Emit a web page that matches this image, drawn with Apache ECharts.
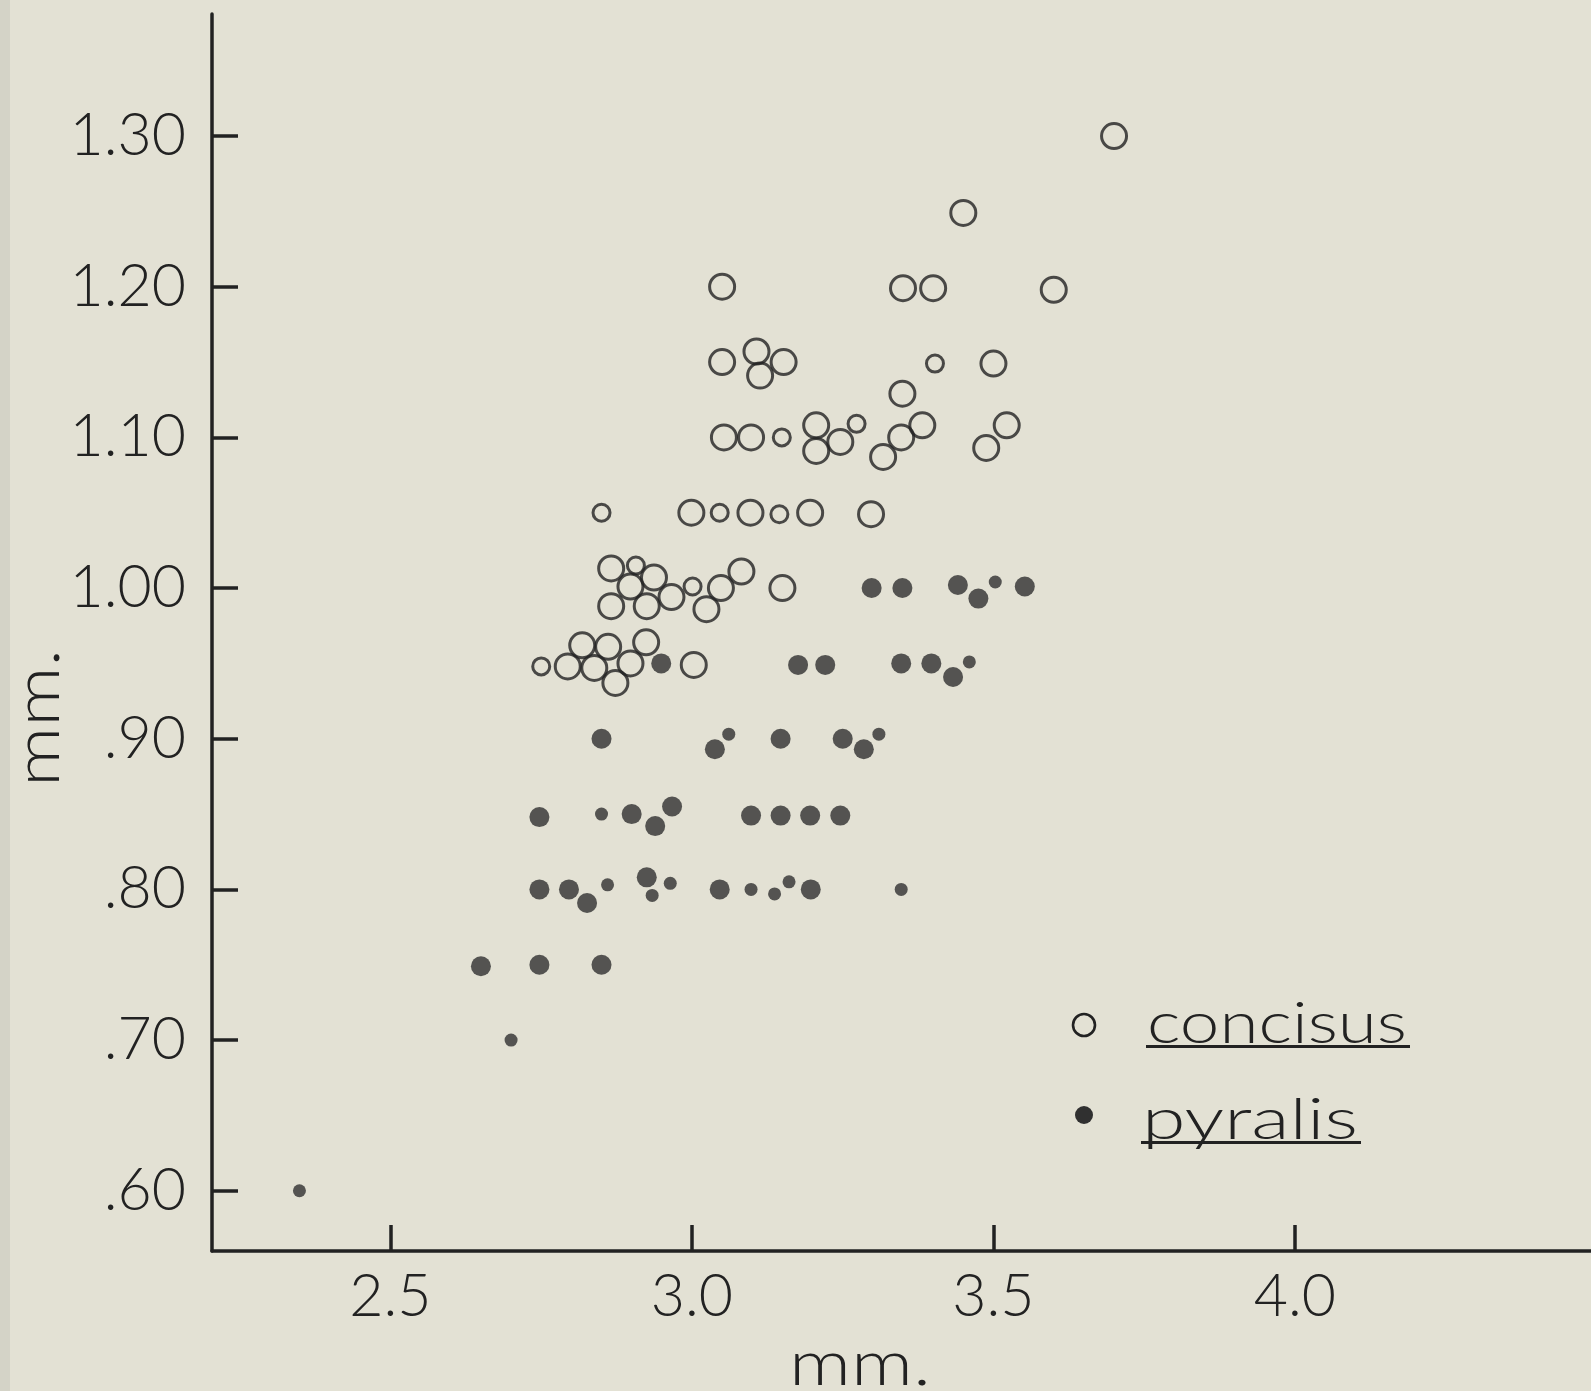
<!DOCTYPE html>
<html>
<head>
<meta charset="utf-8">
<title>concisus / pyralis</title>
<script src="https://cdn.jsdelivr.net/npm/echarts@6/dist/echarts.min.js"></script>
<style>
    html, body {margin: 0; padding: 0; background: #e3e1d4;}
    #chart {width: 1591px; height: 1391px;}
</style>
</head>
<body>
<div id="chart"></div>
<script>
// open circles, large and small marks
const concisusLarge = [
    [3.70, 1.300], [3.45, 1.249], [3.05, 1.200], [3.35, 1.199], [3.40, 1.199], [3.60, 1.198],
    [3.05, 1.150], [3.107, 1.157], [3.152, 1.150], [3.113, 1.141], [3.50, 1.149], [3.349, 1.129],
    [3.053, 1.100], [3.098, 1.100], [3.206, 1.108], [3.206, 1.091], [3.246, 1.097], [3.317, 1.087],
    [3.347, 1.100], [3.382, 1.108], [3.488, 1.093], [3.522, 1.108],
    [2.999, 1.050], [3.097, 1.050], [3.196, 1.050], [3.297, 1.049],
    [2.866, 1.013], [2.898, 1.001], [2.937, 1.007], [2.866, 0.988], [2.925, 0.988], [2.966, 0.994],
    [3.024, 0.986], [3.048, 1.000], [3.082, 1.011], [3.150, 1.000],
    [2.794, 0.948], [2.818, 0.962], [2.838, 0.947], [2.861, 0.961], [2.873, 0.937], [2.898, 0.950],
    [2.924, 0.964], [3.003, 0.949],
]
const concisusSmall = [
    [3.403, 1.149], [3.273, 1.109], [3.149, 1.100], [2.850, 1.050], [3.046, 1.050], [3.145, 1.049],
    [2.907, 1.015], [3.001, 1.001], [2.750, 0.948],
]
// filled dots, large and small marks
const pyralisLarge = [
    [3.298, 1.000], [3.349, 1.000], [3.441, 1.002], [3.475, 0.993], [3.552, 1.001],
    [2.949, 0.950], [3.176, 0.949], [3.221, 0.949], [3.347, 0.950], [3.397, 0.950], [3.433, 0.941],
    [2.850, 0.900], [3.038, 0.893], [3.147, 0.900], [3.250, 0.900], [3.285, 0.893],
    [2.747, 0.848], [2.900, 0.850], [2.939, 0.842], [2.967, 0.855], [3.098, 0.849], [3.147, 0.849],
    [3.196, 0.849], [3.246, 0.849],
    [2.747, 0.800], [2.796, 0.800], [2.826, 0.791], [2.925, 0.808], [3.046, 0.800], [3.197, 0.800],
    [2.650, 0.749], [2.747, 0.750], [2.850, 0.750],
]
const pyralisSmall = [
    [3.503, 1.004], [3.460, 0.951], [3.061, 0.903], [3.310, 0.903], [2.850, 0.850],
    [2.860, 0.803], [2.964, 0.804], [2.934, 0.796], [3.098, 0.800], [3.137, 0.797], [3.161, 0.805],
    [3.347, 0.800], [2.700, 0.700], [2.349, 0.600],
]
const xTicks = [2.5, 3.0, 3.5, 4.0]
const yTicks = [0.6, 0.7, 0.8, 0.9, 1.0, 1.1, 1.2, 1.3]
const axisTitle = 'mm.'
const legendNames = ['concisus', 'pyralis']

const ink = '#222'
const dotInk = '#303030'
const font = 'Lato'

const chart = echarts.init(document.getElementById('chart'))

// the lettering in the original is wider than Lato, so words get stretched to its width
const measure = (text, size) => {
    const ctx = document.createElement('canvas').getContext('2d')
    ctx.font = `300 ${size}px ${font}`
    return ctx.measureText(text).width
}
const stretchedText = (text, size, width, props) => ({
    type: 'text',
    ...props,
    scaleX: width / measure(text, size),
    style: {text: text, x: 0, y: 0, font: `300 ${size}px ${font}`, fill: ink, verticalAlign: 'middle', align: props.align || 'left'},
})
const legendWord = (text, x, baseline, width) => [
    stretchedText(text, 57, width, {x: x, y: baseline - 57 * 0.3}),
    {
        type: 'rect',
        shape: {x: x - 1, y: baseline + 3, width: width + 4, height: 3},
        style: {fill: ink},
    },
]

const dotStyle = {color: dotInk}
const ringStyle = {color: 'transparent', borderColor: ink, borderWidth: 3}

chart.setOption({
    backgroundColor: '#e3e1d4',
    animation: false,
    grid: {left: 212, right: 0, top: 14, bottom: 140, outerBoundsMode: 'none'},
    xAxis: {
        type: 'value',
        min: 2.204,
        max: 4.491,
        axisLine: {onZero: false, lineStyle: {color: ink, width: 3.5}},
        axisTick: {inside: true, length: 26, customValues: xTicks, lineStyle: {color: ink, width: 3.5}},
        axisLabel: {
            customValues: xTicks,
            formatter: (v) => v.toFixed(1),
            margin: 16,
            color: ink,
            fontFamily: font,
            fontWeight: 300,
            fontSize: 59,
        },
        splitLine: {show: false},
    },
    yAxis: {
        type: 'value',
        min: 0.56,
        max: 1.381,
        axisLine: {onZero: false, lineStyle: {color: ink, width: 3.5}},
        axisTick: {inside: true, length: 26, customValues: yTicks, lineStyle: {color: ink, width: 3.5}},
        axisLabel: {
            customValues: yTicks,
            formatter: (v) => (v >= 1 ? v.toFixed(2) : v.toFixed(2).replace(/^0/, '')),
            margin: 26,
            color: ink,
            fontFamily: font,
            fontWeight: 300,
            fontSize: 59,
        },
        splitLine: {show: false},
    },
    tooltip: {show: false},
    series: [
        {name: 'pyralis', type: 'scatter', data: pyralisLarge, symbolSize: 20, itemStyle: dotStyle, silent: true},
        {name: 'pyralis', type: 'scatter', data: pyralisSmall, symbolSize: 13, itemStyle: dotStyle, silent: true},
        {name: 'concisus', type: 'scatter', data: concisusLarge, symbolSize: 25, itemStyle: ringStyle, silent: true},
        {name: 'concisus', type: 'scatter', data: concisusSmall, symbolSize: 17, itemStyle: ringStyle, silent: true},
    ],
    graphic: [
        // scanner shadow on the left margin
        {type: 'rect', shape: {x: 0, y: 0, width: 10, height: 1391}, style: {fill: '#d4d3c7'}, z: -1},
        stretchedText(axisTitle, 64, 142, {x: 860, y: 1364, align: 'center'}),
        stretchedText(axisTitle, 64, 138, {x: 38, y: 718, rotation: Math.PI / 2, align: 'center'}),
        {type: 'circle', shape: {cx: 1084, cy: 1025, r: 11}, style: {fill: 'none', stroke: ink, lineWidth: 2.6}},
        {type: 'circle', shape: {cx: 1084, cy: 1115, r: 9}, style: {fill: dotInk}},
        ...legendWord(legendNames[0], 1147, 1042, 260),
        ...legendWord(legendNames[1], 1142, 1138, 216),
    ],
})
</script>
</body>
</html>
